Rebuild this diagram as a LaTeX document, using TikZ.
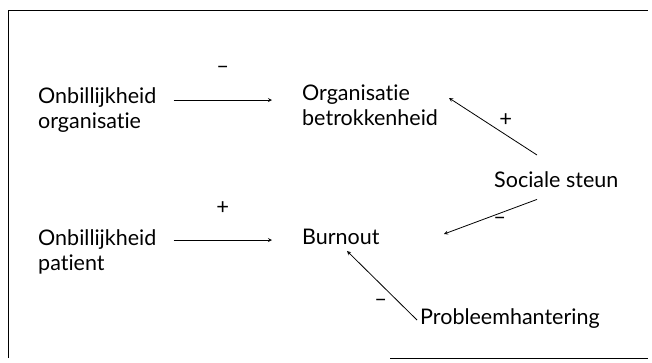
\documentclass[tikz,border=0pt]{standalone}
\usepackage{fontspec}
\setmainfont[Ligatures=NoCommon]{Lato}
\usetikzlibrary{arrows, positioning, calc}
\tikzstyle{arrow} = [thick,->,>=stealth]

\begin{document}
\begin{tikzpicture}[x=1pt, y=-1pt]
\tikzstyle{var} = [align=left, inner sep=0pt, anchor=north west, font=\fontsize{21.5}{25}\selectfont]
\tikzstyle{sign} = [inner sep=0pt, font=\fontsize{22}{22}\selectfont]

\useasboundingbox (0,0) rectangle (652,362);
% frame (as scanned)
\draw[thick] (8,358) -- (8,10) -- (648,10);
\draw[thick] (390,358) -- (648,358);

\node (oborg) [var] at (38,87) {Onbillijkheid\\organisatie};
\node (orgbet) [var] at (302,85) {Organisatie\\betrokkenheid};
\node (sociaal) [var] at (494,171) {Sociale steun};
\node (obpat) [var] at (38,229) {Onbillijkheid\\patient};
\node (burnout) [var] at (302,229) {Burnout};
\node (probleem) [var] at (420,308) {Probleemhantering};

\draw [arrow] ([shift={(17,13)}]oborg.north east) -- ([shift={(-30,15)}]orgbet.north west)
  node [sign, midway, above=26pt] {–};
\draw [arrow] ([shift={(43,-16)}]sociaal.north west) -- ([shift={(147,13)}]orgbet.north west)
  node [sign, midway, above right=0pt and 6pt] {+};
\draw [arrow] ([shift={(17,11)}]obpat.north east) -- ([shift={(-30,11)}]burnout.north west)
  node [sign, midway, above=25pt] {+};
\draw [arrow] ([shift={(43,12)}]sociaal.south west) -- ([shift={(142,5)}]burnout.north west)
  node [sign, pos=0.4, below=4pt] {–};
\draw [arrow] ([shift={(-3,12)}]probleem.north west) -- ([shift={(45,6)}]burnout.south west)
  node [sign, pos=0.25, left=12pt] {–};

\end{tikzpicture}
\end{document}
